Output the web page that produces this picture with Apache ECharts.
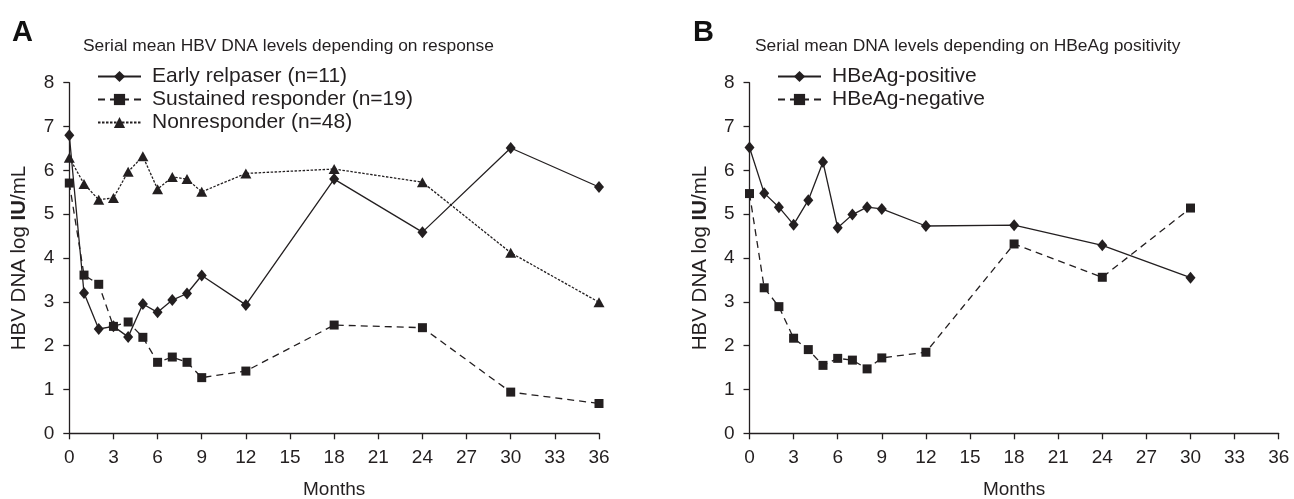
<!DOCTYPE html>
<html>
<head>
<meta charset="utf-8">
<script src="https://cdn.jsdelivr.net/npm/echarts@6/dist/echarts.min.js"></script>
<style>
html,body{margin:0;padding:0;background:#fff;}
#chart{width:1294px;height:499px;}
</style>
</head>
<body>
<div id="chart"></div>
<script>
// ---- Data ----
const monthsA = [0, 1, 2, 3, 4, 5, 6, 7, 8, 9, 12, 18, 24, 30, 36];
const earlyRelapser = [6.80, 3.20, 2.38, 2.44, 2.20, 2.95, 2.76, 3.04, 3.19, 3.60, 2.93, 5.80, 4.59, 6.51, 5.62];
const sustainedResponder = [5.71, 3.61, 3.40, 2.44, 2.54, 2.19, 1.62, 1.74, 1.62, 1.27, 1.42, 2.47, 2.41, 0.94, 0.68];
const nonresponder = [6.29, 5.69, 5.33, 5.37, 5.97, 6.32, 5.57, 5.85, 5.80, 5.51, 5.93, 6.03, 5.73, 4.12, 2.99];

const monthsB = [0, 1, 2, 3, 4, 5, 6, 7, 8, 9, 12, 18, 24, 30];
const hbeagPositive = [6.52, 5.48, 5.16, 4.76, 5.32, 6.19, 4.69, 4.99, 5.16, 5.12, 4.73, 4.75, 4.29, 3.55];
const hbeagNegative = [5.47, 3.32, 2.89, 2.17, 1.91, 1.55, 1.71, 1.67, 1.47, 1.72, 1.85, 4.32, 3.56, 5.14];

const namesA = ['Early relpaser (n=11)', 'Sustained responder (n=19)', 'Nonresponder (n=48)'];
const namesB = ['HBeAg-positive', 'HBeAg-negative'];
const titleA = 'Serial mean HBV DNA levels depending on response';
const titleB = 'Serial mean DNA levels depending on HBeAg positivity';
const xAxisName = 'Months';

// ---- Styling ----
const INK = '#231f20';
const FONT = "'Liberation Sans', Arial, Helvetica, sans-serif";
const pairs = (xs, ys) => xs.map((x, i) => [x, ys[i]]);

function xAxis(gi) {
  return {
    type: 'value', gridIndex: gi, min: 0, max: 36, interval: 3,
    name: xAxisName, nameLocation: 'middle', nameGap: 47,
    nameTextStyle: { color: INK, fontSize: 19, fontFamily: FONT },
    axisLine: { lineStyle: { color: INK, width: 1.3 } },
    axisTick: { show: true, length: 6, lineStyle: { color: INK, width: 1.3 } },
    axisLabel: { color: INK, fontSize: 19, fontFamily: FONT, margin: 15 },
    splitLine: { show: false }
  };
}
function yAxis(gi) {
  return {
    type: 'value', gridIndex: gi, min: 0, max: 8, interval: 1,
    name: '{n|HBV DNA log }{b|IU}{n|/mL}', nameLocation: 'middle', nameGap: 39,
    nameTextStyle: {
      color: INK, fontFamily: FONT,
      rich: {
        n: { fontSize: 20.5, color: INK, fontFamily: FONT },
        b: { fontSize: 20.5, color: INK, fontFamily: FONT, fontWeight: 'bold' }
      }
    },
    axisLine: { show: true, lineStyle: { color: INK, width: 1.3 } },
    axisTick: { show: true, length: 6, lineStyle: { color: INK, width: 1.3 } },
    axisLabel: { color: INK, fontSize: 19, fontFamily: FONT, margin: 15 },
    splitLine: { show: false }
  };
}
function lineSeries(name, gi, data, symbol, size, dash) {
  return {
    name, type: 'line', xAxisIndex: gi, yAxisIndex: gi,
    data, symbol, symbolSize: size, showSymbol: true,
    lineStyle: { color: INK, width: 1.3, type: dash },
    itemStyle: { color: INK, borderWidth: 0 },
    animation: false, z: 3
  };
}
function legend(names, left) {
  return {
    data: names, orient: 'vertical', left, top: 66, padding: 0,
    itemWidth: 43, itemHeight: 14, itemGap: 2,
    textStyle: { color: INK, fontSize: 21, fontFamily: FONT, lineHeight: 21, padding: [0, 0, 0, 6] }
  };
}

const chart = echarts.init(document.getElementById('chart'), null, { renderer: 'canvas' });
chart.setOption({
  backgroundColor: '#fff',
  animation: false,
  title: [
    { text: 'A', left: 12, top: 18, padding: 0, textStyle: { fontSize: 29, fontWeight: 'bold', color: '#111', fontFamily: FONT } },
    { text: titleA, left: 83, top: 38, padding: 0, textStyle: { fontSize: 17.4, fontWeight: 'normal', color: INK, fontFamily: FONT } },
    { text: 'B', left: 693, top: 18, padding: 0, textStyle: { fontSize: 29, fontWeight: 'bold', color: '#111', fontFamily: FONT } },
    { text: titleB, left: 755, top: 38, padding: 0, textStyle: { fontSize: 17.4, fontWeight: 'normal', color: INK, fontFamily: FONT } }
  ],
  legend: [legend(namesA, 97), legend(namesB, 777)],
  grid: [
    { left: 69.3, right: 695, top: 82.7, bottom: 65.7, containLabel: false, outerBoundsMode: 'none' },
    { left: 749.5, right: 15.3, top: 82.7, bottom: 65.7, containLabel: false, outerBoundsMode: 'none' }
  ],
  xAxis: [xAxis(0), xAxis(1)],
  yAxis: [yAxis(0), yAxis(1)],
  series: [
    lineSeries(namesA[0], 0, pairs(monthsA, earlyRelapser), 'diamond', [10, 12], 'solid'),
    lineSeries(namesA[1], 0, pairs(monthsA, sustainedResponder), 'rect', 9, [7, 5]),
    lineSeries(namesA[2], 0, pairs(monthsA, nonresponder), 'triangle', [11, 10], [2.5, 1.5]),
    lineSeries(namesB[0], 1, pairs(monthsB, hbeagPositive), 'diamond', [10, 12], 'solid'),
    lineSeries(namesB[1], 1, pairs(monthsB, hbeagNegative), 'rect', 9, [7, 5])
  ]
});
</script>
</body>
</html>
